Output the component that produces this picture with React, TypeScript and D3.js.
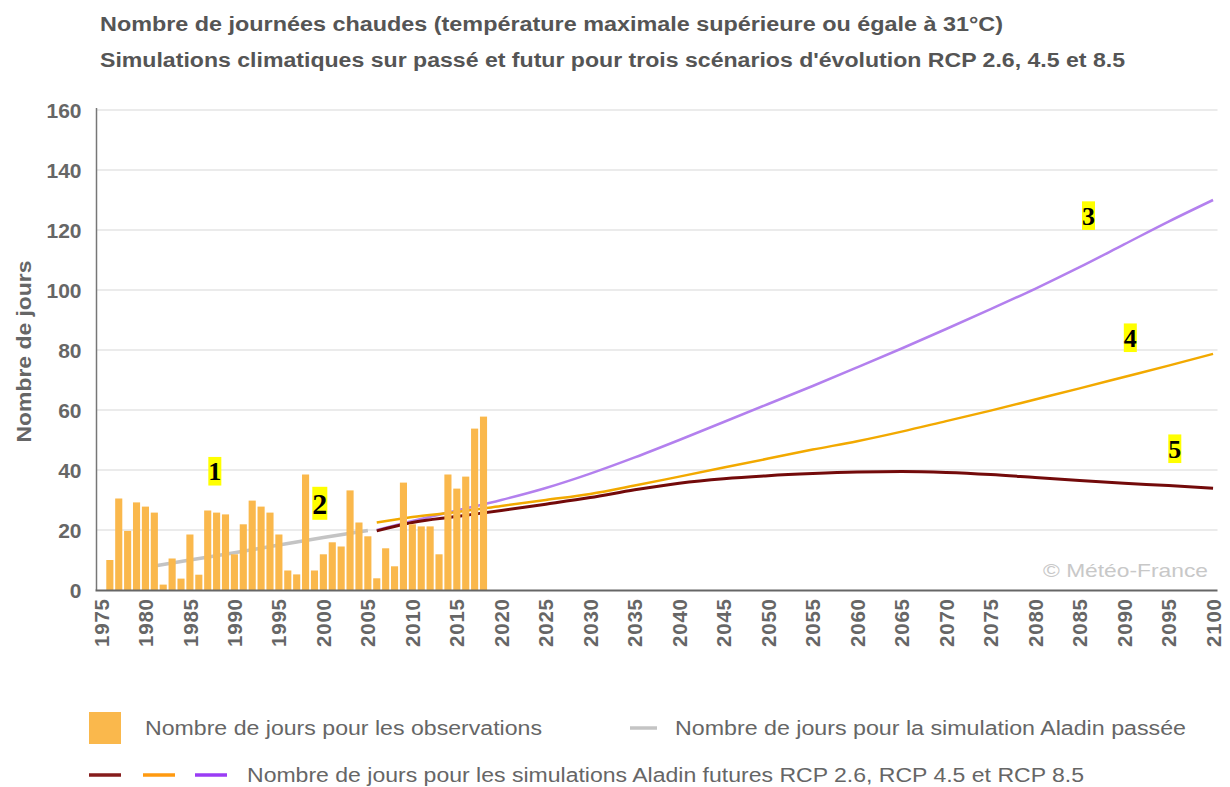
import { useEffect, useRef } from 'react';
import * as d3 from 'd3';

// Observed hot days per year (Tmax >= 31°C), 1976-2018
const obsYears = d3.range(1976, 2019);
const obsValues = [
  10, 30.5, 19.7, 29.2, 27.8, 25.8, 1.8, 10.5, 3.8, 18.5,
  5.1, 26.5, 25.8, 25.2, 11.9, 21.9, 29.8, 27.8, 25.8, 18.5,
  6.5, 5.2, 38.5, 6.5, 11.9, 15.9, 14.5, 33.2, 22.5, 17.9,
  3.9, 13.9, 7.9, 35.8, 21.9, 21.2, 21.2, 11.9, 38.5, 33.8,
  37.8, 53.8, 57.8,
];

// Aladin past simulation
const pastYears = [1981, 1985, 1990, 1995, 2000, 2005];
const pastValues = [8, 10, 12.4, 15, 17.5, 19.8];

// Aladin future simulations
const futYears = [2006, 2010, 2015, 2020, 2025, 2030, 2035, 2040, 2045, 2050, 2055, 2060, 2065, 2070, 2075, 2080, 2085, 2090, 2095, 2100];
const rcp26 = [19.7, 22.5, 24.5, 26.5, 28.6, 30.8, 33.4, 35.6, 37.1, 38.1, 38.8, 39.3, 39.5, 39.2, 38.5, 37.5, 36.5, 35.6, 34.8, 33.9];
const rcp45 = [22.5, 24.3, 26, 28, 30, 32, 34.8, 37.8, 40.8, 43.8, 46.8, 49.6, 52.8, 56.3, 59.8, 63.5, 67.2, 71, 74.8, 78.7];
const rcp85 = [20, 23, 26.5, 30, 34, 38.8, 44.2, 50, 56, 62, 68, 74.2, 80.5, 87, 93.6, 100.4, 107.6, 115.2, 122.8, 130];

const yTicks = [0, 20, 40, 60, 80, 100, 120, 140, 160];

const titles = [
  'Nombre de journées chaudes (température maximale supérieure ou égale à 31°C)',
  "Simulations climatiques sur passé et futur pour trois scénarios d'évolution RCP 2.6, 4.5 et 8.5",
];

// numbered callouts: label, year, value, font size
const callouts: [string, number, number, number][] = [
  ['1', 1987.8, 39.5, 26],
  ['2', 1999.6, 28.8, 30],
  ['3', 2086, 124.7, 26],
  ['4', 2090.7, 84, 26],
  ['5', 2095.7, 47, 26],
];

const W = 1230;
const H = 787;
const FONT = '"Liberation Sans", Arial, Helvetica, sans-serif';

export default function App() {
  const svgRef = useRef<SVGSVGElement>(null);

  useEffect(() => {
    const svg = d3.select(svgRef.current);
    svg.selectAll('*').remove();

    const left = 96.5, right = 1217.5, top = 110, bottom = 590;

    const years = d3.range(1975, 2101);
    const x = d3.scaleBand<number>().domain(years).range([left, right]).paddingInner(0.2).paddingOuter(0.1);
    const cx = (yr: number) => x(1975)! + x.bandwidth() / 2 + (yr - 1975) * x.step();
    const y = d3.scaleLinear().domain([0, 160]).range([bottom, top]);

    // titles (source text is rendered wide, so stretch to measured widths)
    svg.append('g')
      .selectAll('text')
      .data(titles)
      .enter().append('text')
      .attr('x', 100)
      .attr('y', (_, i) => 31 + i * 36)
      .attr('textLength', (_, i) => [903, 1025][i])
      .attr('lengthAdjust', 'spacingAndGlyphs')
      .style('font-family', FONT)
      .style('font-size', '20px')
      .style('font-weight', 'bold')
      .style('fill', '#555')
      .text(d => d);

    // grid + y ticks
    svg.append('g')
      .selectAll('line')
      .data(yTicks.filter(t => t > 0))
      .enter().append('line')
      .attr('x1', left).attr('x2', right)
      .attr('y1', d => y(d)).attr('y2', d => y(d))
      .style('stroke', '#e4e4e4')
      .style('stroke-width', 1.5);

    svg.append('g')
      .selectAll('text')
      .data(yTicks)
      .enter().append('text')
      .attr('x', 81.5)
      .attr('y', d => y(d))
      .attr('dy', '0.36em')
      .style('text-anchor', 'end')
      .style('font-family', FONT)
      .style('font-size', '21px')
      .style('font-weight', 'bold')
      .style('fill', '#666')
      .text(d => d);

    svg.append('text')
      .attr('transform', `translate(31,${351.5}) rotate(-90)`)
      .attr('textLength', 182)
      .attr('lengthAdjust', 'spacingAndGlyphs')
      .style('text-anchor', 'middle')
      .style('font-family', FONT)
      .style('font-size', '20px')
      .style('font-weight', 'bold')
      .style('fill', '#666')
      .text('Nombre de jours');

    // simulation lines (drawn under the bars)
    const line = d3.line<[number, number]>()
      .x(d => cx(d[0]))
      .y(d => y(d[1]))
      .curve(d3.curveMonotoneX);

    const series = [
      { yrs: pastYears, vals: pastValues, color: '#c4c4c4', w: 3.5 },
      { yrs: futYears, vals: rcp85, color: '#b380ee', w: 2.5 },
      { yrs: futYears, vals: rcp45, color: '#f2a900', w: 2.5 },
      { yrs: futYears, vals: rcp26, color: '#730a0a', w: 3 },
    ];
    svg.append('g')
      .selectAll('path')
      .data(series)
      .enter().append('path')
      .attr('d', s => line(s.yrs.map((yr, i) => [yr, s.vals[i]] as [number, number])))
      .style('fill', 'none')
      .style('stroke', s => s.color)
      .style('stroke-width', s => s.w);

    // observation bars
    svg.append('g')
      .selectAll('rect')
      .data(obsYears)
      .enter().append('rect')
      .attr('x', d => x(d)!)
      .attr('width', x.bandwidth())
      .attr('y', (_, i) => y(obsValues[i]))
      .attr('height', (_, i) => bottom - y(obsValues[i]))
      .style('fill', '#fab84c');

    // axis lines
    svg.append('line')
      .attr('x1', left).attr('x2', left).attr('y1', top - 2).attr('y2', bottom)
      .style('stroke', '#777').style('stroke-width', 1.5);
    svg.append('line')
      .attr('x1', left - 1).attr('x2', right).attr('y1', bottom + 0.5).attr('y2', bottom + 0.5)
      .style('stroke', '#666').style('stroke-width', 2);

    // x tick labels
    svg.append('g')
      .selectAll('text')
      .data(years.filter(yr => yr % 5 === 0))
      .enter().append('text')
      .attr('transform', d => `translate(${cx(d)},599) rotate(-90)`)
      .attr('dy', '0.37em')
      .attr('textLength', 48)
      .attr('lengthAdjust', 'spacing')
      .style('text-anchor', 'end')
      .style('font-family', FONT)
      .style('font-size', '20.5px')
      .style('font-weight', 'bold')
      .style('fill', '#666')
      .text(d => d);

    // watermark
    svg.append('text')
      .attr('x', 1043)
      .attr('y', 577)
      .attr('textLength', 165)
      .attr('lengthAdjust', 'spacingAndGlyphs')
      .style('font-family', FONT)
      .style('font-size', '19px')
      .style('fill', '#c8c8c8')
      .text('© Météo-France');

    // callouts
    const co = svg.append('g')
      .selectAll('g')
      .data(callouts)
      .enter().append('g')
      .attr('transform', d => `translate(${cx(d[1])},${y(d[2])})`);
    co.append('rect')
      .attr('x', d => -d[3] * 0.25)
      .attr('y', d => -d[3] * 0.56)
      .attr('width', d => d[3] * 0.5)
      .attr('height', d => d[3] * 1.1)
      .style('fill', '#ffff00');
    co.append('text')
      .attr('dy', '0.34em')
      .style('text-anchor', 'middle')
      .style('font-family', '"Liberation Serif", "Times New Roman", serif')
      .style('font-weight', 'bold')
      .style('font-size', d => `${d[3]}px`)
      .style('fill', '#000')
      .text(d => d[0]);

    // legend
    const lg = svg.append('g')
      .style('font-family', FONT)
      .style('font-size', '20px')
      .style('fill', '#666');
    lg.append('rect').attr('x', 89).attr('y', 712).attr('width', 32).attr('height', 32).style('fill', '#fab84c');
    lg.append('text').attr('x', 145).attr('y', 735)
      .attr('textLength', 397).attr('lengthAdjust', 'spacingAndGlyphs')
      .text('Nombre de jours pour les observations');
    lg.append('line').attr('x1', 630).attr('x2', 657).attr('y1', 728).attr('y2', 728)
      .style('stroke', '#c4c4c4').style('stroke-width', 3.5);
    lg.append('text').attr('x', 675).attr('y', 735)
      .attr('textLength', 511).attr('lengthAdjust', 'spacingAndGlyphs')
      .text('Nombre de jours pour la simulation Aladin passée');
    const legColors = ['#861c1c', '#ff9a10', '#9a3cf5'];
    lg.selectAll('line.fut')
      .data(legColors)
      .enter().append('line')
      .attr('class', 'fut')
      .attr('x1', (_, i) => [89, 143, 195][i])
      .attr('x2', (_, i) => [121, 175, 227][i])
      .attr('y1', 775).attr('y2', 775)
      .style('stroke', d => d)
      .style('stroke-width', 3.5);
    lg.append('text').attr('x', 247).attr('y', 782)
      .attr('textLength', 837).attr('lengthAdjust', 'spacingAndGlyphs')
      .text('Nombre de jours pour les simulations Aladin futures RCP 2.6, RCP 4.5 et RCP 8.5');
  }, []);

  return (
    <svg
      ref={svgRef}
      width={W}
      height={H}
      style={{ position: 'absolute', left: 0, top: 0, background: '#fff', display: 'block' }}
    />
  );
}
